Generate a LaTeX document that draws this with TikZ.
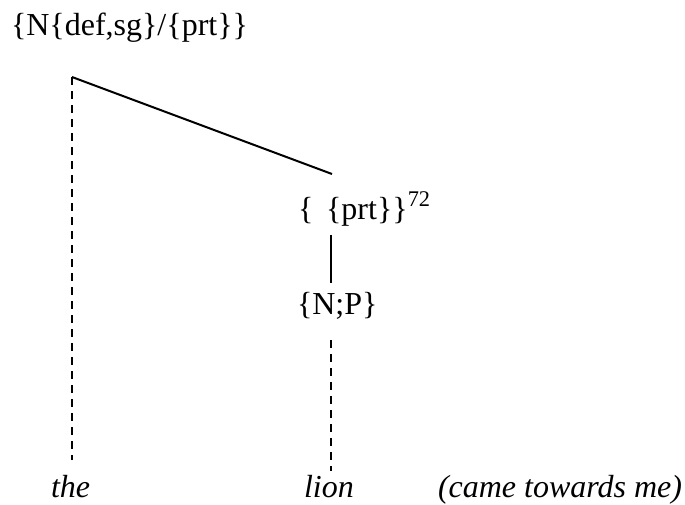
\documentclass[tikz,border=0pt]{standalone}
\usepackage{fontspec}
\setmainfont{Liberation Serif}
\usepackage{tikz}
\usetikzlibrary{positioning}

\begin{document}
\begin{tikzpicture}[x=0.5pt, y=-0.5pt, line width=1pt,
  cat/.style={inner sep=0pt, anchor=base west, font=\fontsize{16}{19}\selectfont},
  word/.style={cat, font=\fontsize{16}{19}\selectfont\itshape},
  assoc/.style={dash pattern=on 4pt off 3pt}]
  \useasboundingbox (0,0) rectangle (685,504);

  % top: the determiner node
  \node[cat] (det) at (10,35) {\{N\{def,sg\}/\{prt\}\}};
  \coordinate (detfoot) at (72,77);

  % right: the dependent cluster
  \node[cat] (prt) at (297,219) {\{\hspace{0.4em}\{prt\}\}\textsuperscript{72}};
  \node[cat] (np) at (296,314) {\{N;P\}};
  \coordinate (prttop) at (332,174);
  \coordinate (prtfoot) at (331,235);
  \coordinate (nptop) at (331,283);
  \coordinate (npfoot) at (331,340);

  % bottom: the words
  \node[word] (the) at (50,497) {the};
  \node[word] (lion) at (303,497) {lion};
  \node[word] (rest) at (437,497) {(came towards me)};
  \coordinate (theup) at (72,460);
  \coordinate (lionup) at (331,471);

  \draw (detfoot) -- (prttop);
  \draw (prtfoot) -- (nptop);
  \draw[assoc] (detfoot) -- (theup);
  \draw[assoc] (npfoot) -- (lionup);
\end{tikzpicture}
\end{document}
